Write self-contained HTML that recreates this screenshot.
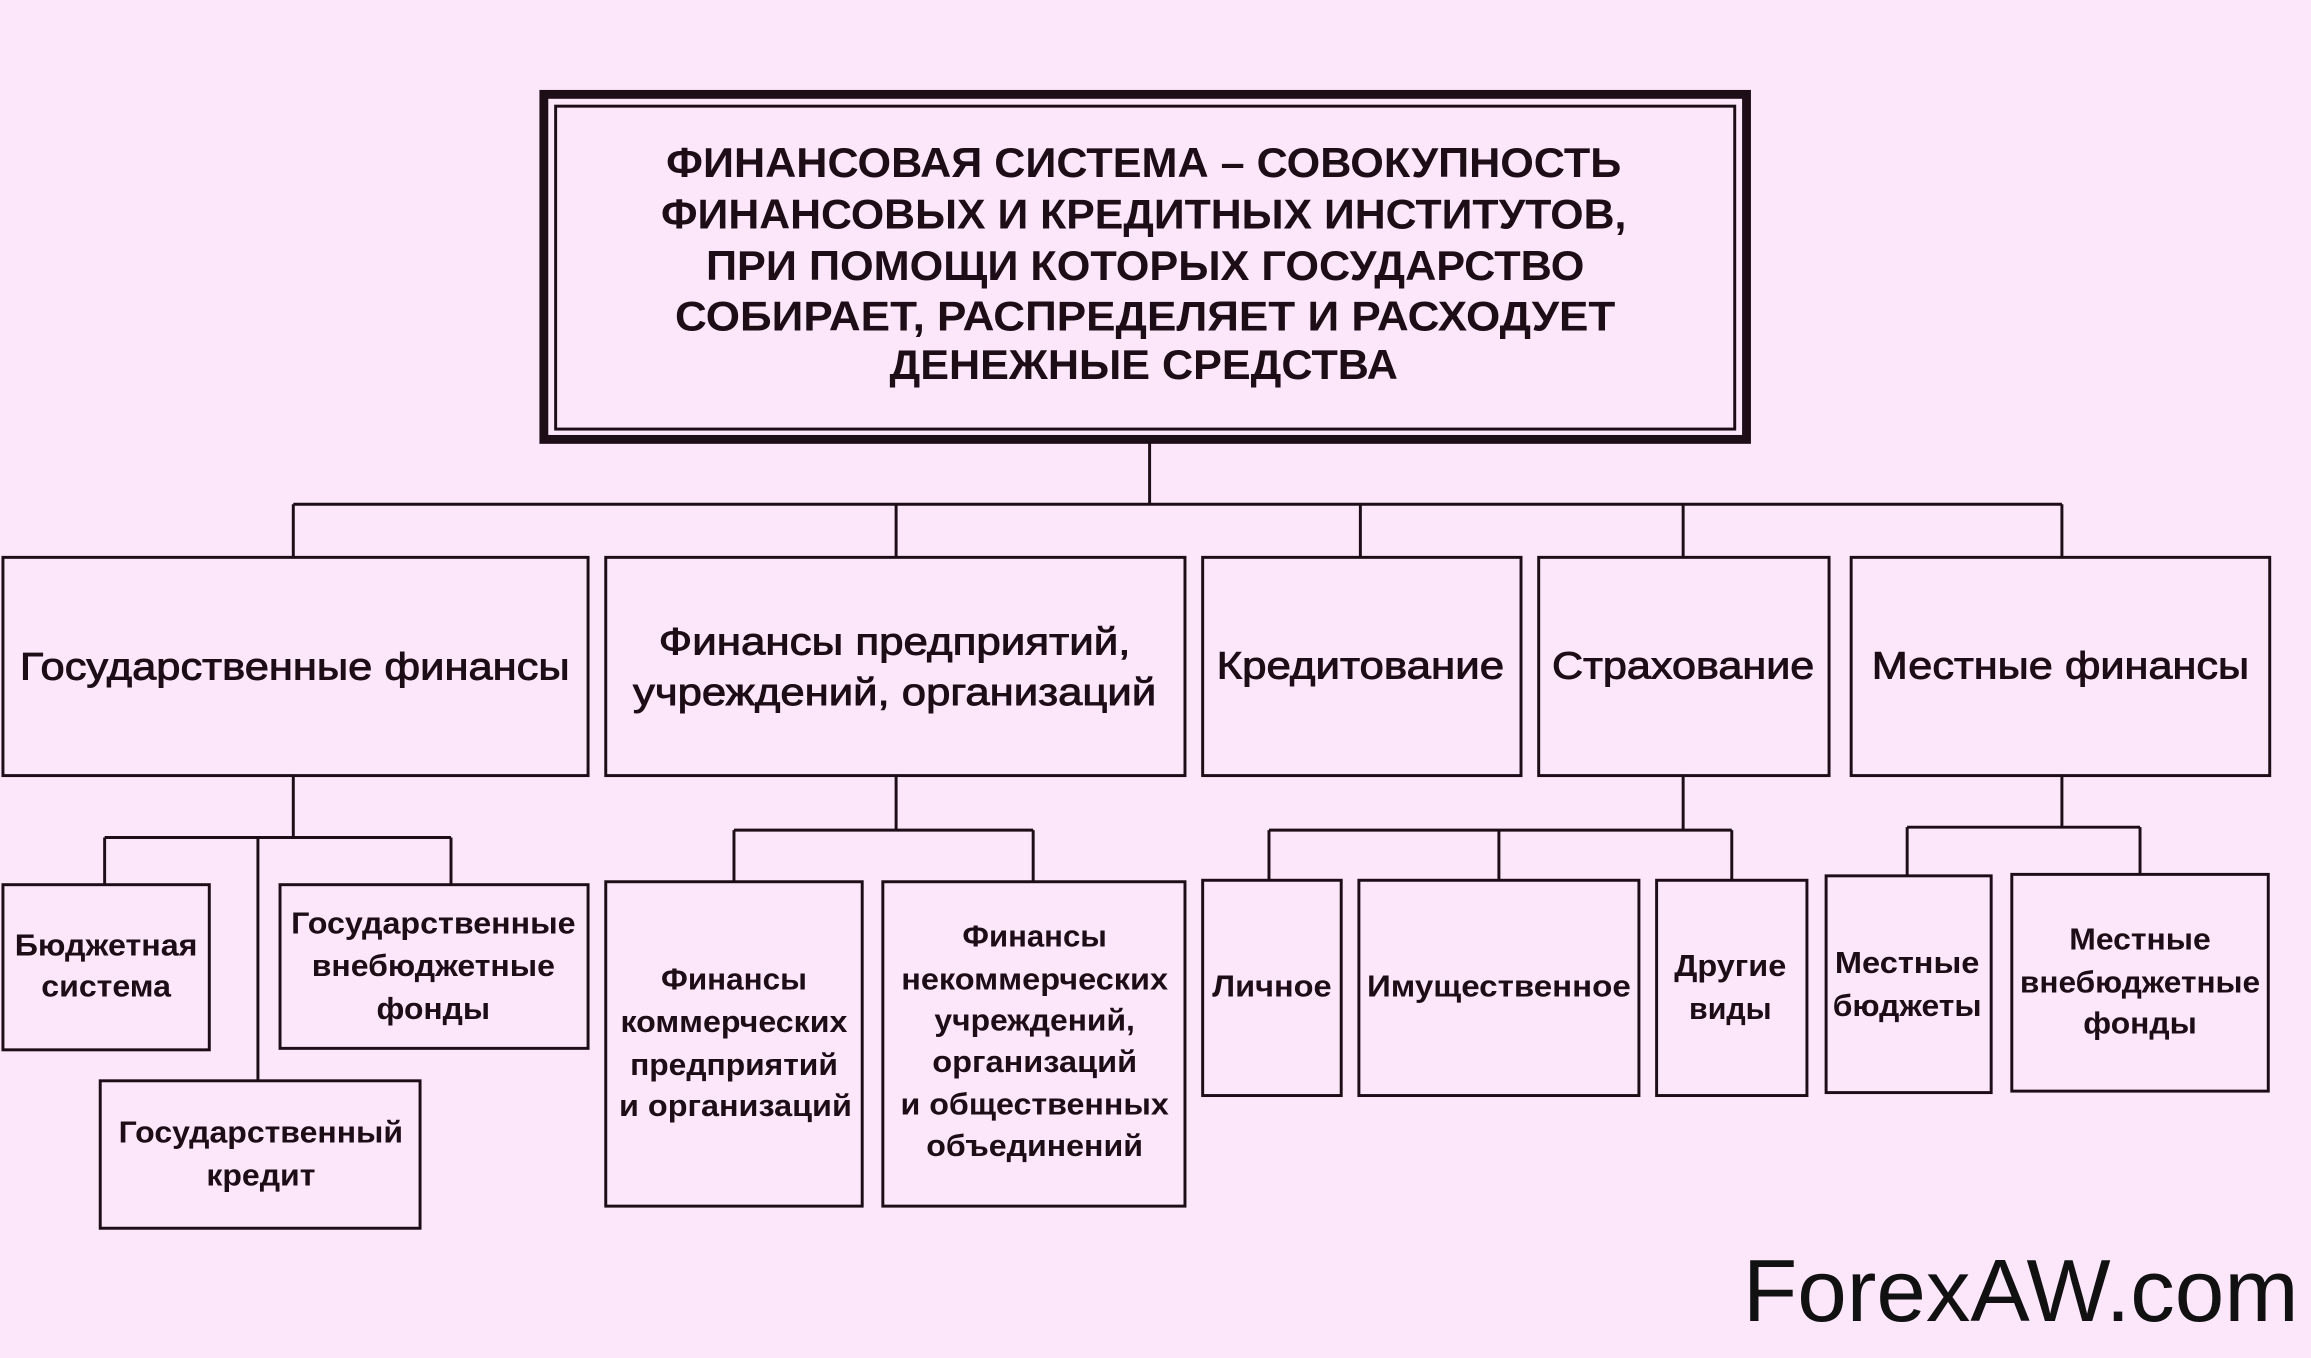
<!DOCTYPE html>
<html><head><meta charset="utf-8"><style>
html,body{margin:0;padding:0;background:#fbe6fa;}
svg{display:block}
text{font-family:"Liberation Sans",sans-serif;fill:#1c0d16;text-anchor:middle}
.t{font-size:28px;font-weight:bold}
.m{font-size:26px;stroke:#1c0d16;stroke-width:0.6}
.s{font-size:21px;font-weight:bold}
</style></head><body>
<svg width="2311" height="1358" viewBox="0 0 1568 921" preserveAspectRatio="none" xmlns="http://www.w3.org/2000/svg">
<rect x="0" y="0" width="1568" height="921" fill="#fbe6fa"/>
<g fill="none" stroke="#1c0d16">
<rect x="369" y="64" width="816" height="234" stroke-width="6"/>
<rect x="377" y="72" width="800" height="219" stroke-width="2"/>
<g stroke-width="2">
<path d="M780 300V342M199 342H1399M199 342V378M608 342V378M923 342V378M1142 342V378M1399 342V378"/>
<rect x="2" y="378" width="397" height="148"/>
<rect x="411" y="378" width="393" height="148"/>
<rect x="816" y="378" width="216" height="148"/>
<rect x="1044" y="378" width="197" height="148"/>
<rect x="1256" y="378" width="284" height="148"/>
<path d="M199 526V568M71 568H306M71 568V600M306 568V600M175 568V733"/>
<rect x="2" y="600" width="140" height="112"/>
<rect x="190" y="600" width="209" height="111"/>
<rect x="68" y="733" width="217" height="100"/>
<path d="M608 526V563M498 563H701M498 563V598M701 563V598"/>
<rect x="411" y="598" width="174" height="220"/>
<rect x="599" y="598" width="205" height="220"/>
<path d="M1142 526V563M861 563H1175M861 563V597M1017 563V597M1175 563V597"/>
<rect x="816" y="597" width="94" height="146"/>
<rect x="922" y="597" width="190" height="146"/>
<rect x="1124" y="597" width="102" height="146"/>
<path d="M1399 526V561M1294 561H1452M1294 561V594M1452 561V593"/>
<rect x="1239" y="594" width="112" height="147"/>
<rect x="1365" y="593" width="174" height="147"/>
</g></g>
<g lengthAdjust="spacingAndGlyphs">
<text class="t" x="776" y="120" textLength="648" lengthAdjust="spacingAndGlyphs">ФИНАНСОВАЯ СИСТЕМА – СОВОКУПНОСТЬ</text>
<text class="t" x="776" y="155" textLength="655" lengthAdjust="spacingAndGlyphs">ФИНАНСОВЫХ И КРЕДИТНЫХ ИНСТИТУТОВ,</text>
<text class="t" x="777" y="190" textLength="596" lengthAdjust="spacingAndGlyphs">ПРИ ПОМОЩИ КОТОРЫХ ГОСУДАРСТВО</text>
<text class="t" x="777" y="224" textLength="638" lengthAdjust="spacingAndGlyphs">СОБИРАЕТ, РАСПРЕДЕЛЯЕТ И РАСХОДУЕТ</text>
<text class="t" x="776" y="257" textLength="345" lengthAdjust="spacingAndGlyphs">ДЕНЕЖНЫЕ СРЕДСТВА</text>
<text class="m" x="200" y="461" textLength="373" lengthAdjust="spacingAndGlyphs">Государственные финансы</text>
<text class="m" x="607" y="444" textLength="320" lengthAdjust="spacingAndGlyphs">Финансы предприятий,</text>
<text class="m" x="607" y="478" textLength="355" lengthAdjust="spacingAndGlyphs">учреждений, организаций</text>
<text class="m" x="923" y="460" textLength="195" lengthAdjust="spacingAndGlyphs">Кредитование</text>
<text class="m" x="1142" y="460" textLength="178" lengthAdjust="spacingAndGlyphs">Страхование</text>
<text class="m" x="1398" y="460" textLength="256" lengthAdjust="spacingAndGlyphs">Местные финансы</text>
<text class="s" x="72" y="648" textLength="124" lengthAdjust="spacingAndGlyphs">Бюджетная</text>
<text class="s" x="72" y="676" textLength="88" lengthAdjust="spacingAndGlyphs">система</text>
<text class="s" x="294" y="633" textLength="193" lengthAdjust="spacingAndGlyphs">Государственные</text>
<text class="s" x="294" y="662" textLength="165" lengthAdjust="spacingAndGlyphs">внебюджетные</text>
<text class="s" x="294" y="691" textLength="77" lengthAdjust="spacingAndGlyphs">фонды</text>
<text class="s" x="177" y="775" textLength="193" lengthAdjust="spacingAndGlyphs">Государственный</text>
<text class="s" x="177" y="804" textLength="74" lengthAdjust="spacingAndGlyphs">кредит</text>
<text class="s" x="498" y="671" textLength="99" lengthAdjust="spacingAndGlyphs">Финансы</text>
<text class="s" x="498" y="700" textLength="154" lengthAdjust="spacingAndGlyphs">коммерческих</text>
<text class="s" x="498" y="729" textLength="141" lengthAdjust="spacingAndGlyphs">предприятий</text>
<text class="s" x="499" y="757" textLength="158" lengthAdjust="spacingAndGlyphs">и организаций</text>
<text class="s" x="702" y="642" textLength="98" lengthAdjust="spacingAndGlyphs">Финансы</text>
<text class="s" x="702" y="671" textLength="181" lengthAdjust="spacingAndGlyphs">некоммерческих</text>
<text class="s" x="702" y="699" textLength="136" lengthAdjust="spacingAndGlyphs">учреждений,</text>
<text class="s" x="702" y="727" textLength="139" lengthAdjust="spacingAndGlyphs">организаций</text>
<text class="s" x="702" y="756" textLength="182" lengthAdjust="spacingAndGlyphs">и общественных</text>
<text class="s" x="702" y="784" textLength="147" lengthAdjust="spacingAndGlyphs">объединений</text>
<text class="s" x="863" y="676" textLength="81" lengthAdjust="spacingAndGlyphs">Личное</text>
<text class="s" x="1017" y="676" textLength="179" lengthAdjust="spacingAndGlyphs">Имущественное</text>
<text class="s" x="1174" y="662" textLength="76" lengthAdjust="spacingAndGlyphs">Другие</text>
<text class="s" x="1174" y="691" textLength="56" lengthAdjust="spacingAndGlyphs">виды</text>
<text class="s" x="1294" y="660" textLength="98" lengthAdjust="spacingAndGlyphs">Местные</text>
<text class="s" x="1294" y="689" textLength="101" lengthAdjust="spacingAndGlyphs">бюджеты</text>
<text class="s" x="1452" y="644" textLength="96" lengthAdjust="spacingAndGlyphs">Местные</text>
<text class="s" x="1452" y="673" textLength="163" lengthAdjust="spacingAndGlyphs">внебюджетные</text>
<text class="s" x="1452" y="701" textLength="77" lengthAdjust="spacingAndGlyphs">фонды</text>
<text x="1371" y="896" textLength="377" lengthAdjust="spacingAndGlyphs" style="font-size:60px;fill:#111">ForexAW.com</text>
</g>
</svg>
</body></html>
